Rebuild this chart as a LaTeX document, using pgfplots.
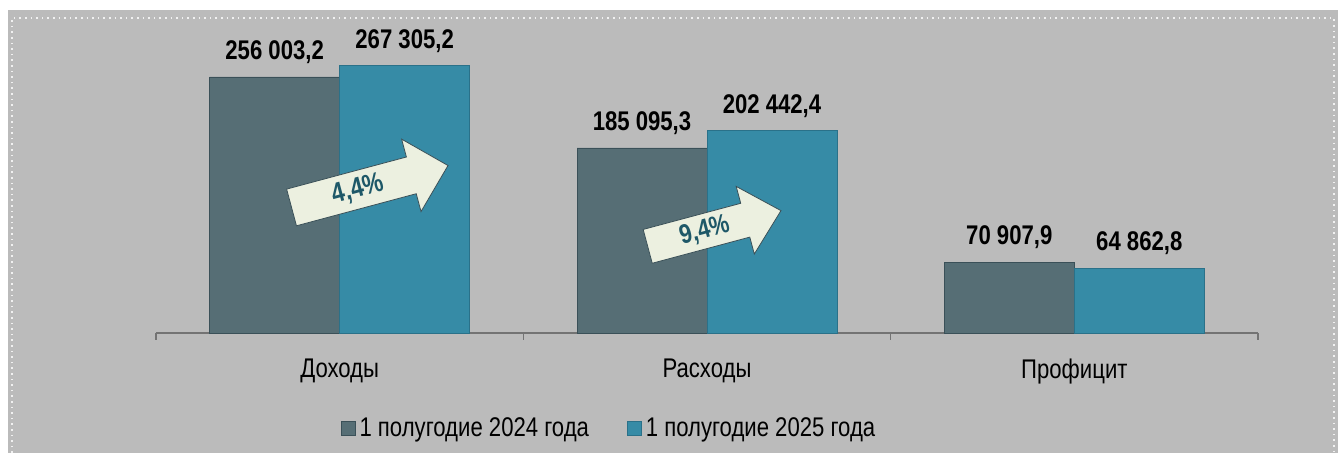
\documentclass[border=0pt]{standalone}
\usepackage{fontspec}
\setmainfont{Liberation Sans}[FakeStretch=0.82]
\usepackage{pgfplots}
\pgfplotsset{compat=1.18}

\definecolor{bggray}{HTML}{BBBBBB}
\definecolor{slate}{HTML}{566E75}
\definecolor{slateedge}{HTML}{3A5058}
\definecolor{teal}{HTML}{368BA6}
\definecolor{tealedge}{HTML}{2A7189}
\definecolor{arrowfill}{HTML}{ECF0E0}
\definecolor{arrowtext}{HTML}{1E5868}

\begin{document}
\begin{tikzpicture}
% fond (1 px = 0.5pt)
\fill[white] (-78pt,-60pt) rectangle (594pt,166.5pt);
\fill[bggray] (-74pt,-60pt) rectangle (591pt,161.5pt);
\draw[white!80!bggray, dotted, line width=0.8pt] (-72pt,-60pt) -- (-72pt,157.5pt) -- (589pt,157.5pt) -- (589pt,-60pt);

\begin{axis}[
    scale only axis,
    width=551pt, height=150pt,
    ybar=0pt, bar width=65pt,
    xmin=-0.5, xmax=2.5,
    ymin=0, ymax=300000,
    axis x line*=bottom,
    axis y line=none,
    axis line style={-, draw=gray!90!black, line width=0.8pt},
    xtick={0,1,2},
    xticklabels={Доходы, Расходы, Профицит},
    major x tick style={draw=none},
    minor xtick={-0.5,0.5,1.5,2.5},
    minor tick length=3.5pt,
    minor x tick style={draw=gray!90!black, line width=0.8pt},
    xtick align=outside,
    xticklabel style={font=\fontsize{13.5}{15}\selectfont, yshift=-5pt},
    clip=false,
    nodes near coords,
    nodes near coords style={font=\fontsize{13.5}{15}\selectfont\bfseries, black, yshift=3pt},
    /pgf/number format/.cd, fixed, fixed zerofill, precision=1, use comma, 1000 sep={\ }, assume math mode=true,
    /pgfplots/.cd,
    legend columns=2,
    legend style={at={(0.412,-0.317)}, anchor=center, draw=none, fill=none,
        font=\fontsize{13.5}{15}\selectfont,
        /tikz/every odd column/.append style={column sep=0pt},
        /tikz/every even column/.append style={column sep=17pt}},
    legend image code/.code={\draw[#1] (0pt,-3.5pt) rectangle (7pt,3.5pt);},
]
\addplot[fill=slate, draw=slateedge] coordinates {(0,256003.2) (1,185095.3) (2,70907.9)};
\addlegendentry{1 полугодие 2024 года}
\addplot[fill=teal, draw=tealedge] coordinates {(0,267305.2) (1,202442.4) (2,64862.8)};
\addlegendentry{1 полугодие 2025 года}

\coordinate (a1) at (axis cs:0.082,146500);
\coordinate (a2) at (axis cs:1.02,104500);
\end{axis}

% стрелки роста
\begin{scope}[shift={(a1)}, rotate=15]
  \draw[fill=arrowfill, draw=slateedge, line width=0.4pt] (-40.5pt,-9.5pt) -- (21.5pt,-9.5pt) -- (21.5pt,-18.75pt) -- (40.5pt,0pt) -- (21.5pt,18.75pt) -- (21.5pt,9.5pt) -- (-40.5pt,9.5pt) -- cycle;
  \node[text=arrowtext, rotate=15, font=\fontsize{14}{16}\selectfont\bfseries] at (-6pt,0pt) {4,4\%};
\end{scope}
\begin{scope}[shift={(a2)}, rotate=15]
  \draw[fill=arrowfill, draw=slateedge, line width=0.4pt] (-34.5pt,-8.75pt) -- (16pt,-8.75pt) -- (16pt,-17.5pt) -- (34.5pt,0pt) -- (16pt,17.5pt) -- (16pt,8.75pt) -- (-34.5pt,8.75pt) -- cycle;
  \node[text=arrowtext, rotate=15, font=\fontsize{13.5}{15}\selectfont\bfseries] at (-5pt,0pt) {9,4\%};
\end{scope}
\end{tikzpicture}
\end{document}
